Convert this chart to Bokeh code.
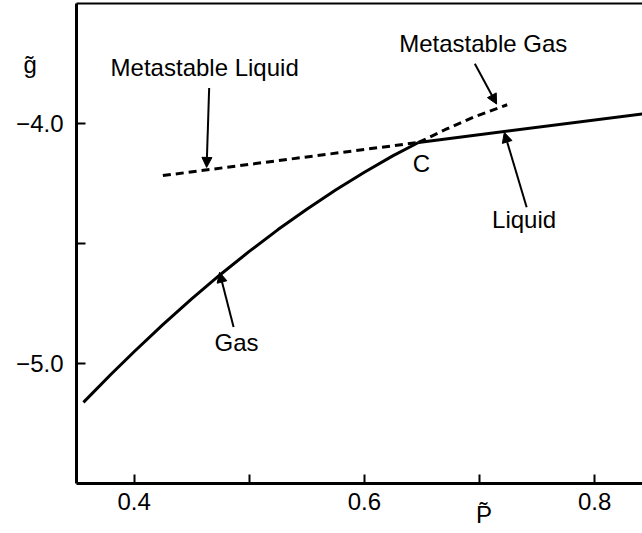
from bokeh.plotting import figure
from bokeh.models import Range1d, FixedTicker, Label, Arrow, NormalHead, LinearAxis
from bokeh.embed import file_html
from bokeh.resources import INLINE

# --- data ---
gas_p = [0.356, 0.380, 0.400, 0.425, 0.450, 0.475, 0.500, 0.525, 0.550, 0.575, 0.600, 0.625, 0.647]
gas_g = [-5.162, -5.045, -4.951, -4.838, -4.731, -4.629, -4.533, -4.442, -4.357, -4.277, -4.203, -4.134, -4.079]
meta_gas_p = [0.647, 0.670, 0.695, 0.724]
meta_gas_g = [-4.079, -4.026, -3.973, -3.922]
liquid_p = [0.647, 0.850]
liquid_g = [-4.079, -3.955]
meta_liq_p = [0.425, 0.647]
meta_liq_g = [-4.217, -4.079]

x_ticks = [0.4, 0.5, 0.6, 0.7, 0.8]
x_label_ticks = [0.4, 0.6, 0.8]
x_label_text = ["0.4", "0.6", "0.8"]
y_ticks = [-5.0, -4.5, -4.0]
y_label_ticks = [-5.0, -4.0]
y_label_text = ["\u22125.0", "\u22124.0"]

label_text = ["Metastable Liquid", "Metastable Gas", "Liquid", "Gas", "C"]
label_x = [0.4613, 0.7032, 0.7387, 0.4890, 0.6496]
label_y = [-3.765, -3.668, -4.401, -4.911, -4.166]

arrow_x_start = [0.4652, 0.6959, 0.7409, 0.4864]
arrow_y_start = [-3.852, -3.751, -4.349, -4.848]
arrow_x_end = [0.4630, 0.7148, 0.7215, 0.4742]
arrow_y_end = [-4.183, -3.919, -4.037, -4.620]

y_title = "g\u0303"
y_title_at = -3.755
x_title = "P\u0303"
x_title_at = 0.7039

FONT = "Liberation Sans"
FS = "24px"

p = figure(width=642, height=533, output_backend="svg", toolbar_location=None,
           x_range=Range1d(0.35, 0.8415), y_range=Range1d(-5.5, -3.5),
           x_axis_location=None, y_axis_location=None,
           min_border_left=76, min_border_right=0, min_border_top=3, min_border_bottom=50)
p.outline_line_color = None
p.grid.visible = False
p.background_fill_color = "white"


def line_axis(ticks, width):
    return LinearAxis(ticker=FixedTicker(ticks=ticks), axis_line_width=width, axis_line_color="black",
                      major_tick_in=9, major_tick_out=0, major_tick_line_width=2,
                      major_tick_line_color="black", minor_tick_line_color=None,
                      major_label_overrides={t: "" for t in ticks},
                      major_label_text_font_size="0px", major_label_standoff=0)


def label_axis(ticks, texts, standoff):
    return LinearAxis(ticker=FixedTicker(ticks=ticks), axis_line_color=None,
                      major_tick_in=0, major_tick_out=0, major_tick_line_color=None,
                      minor_tick_line_color=None,
                      major_label_overrides=dict(zip(ticks, texts)),
                      major_label_standoff=standoff, major_label_text_font=FONT,
                      major_label_text_font_size=FS, major_label_text_color="black")


# bottom: axis line + ticks, tick labels, title
p.add_layout(line_axis(x_ticks, 3), "below")
p.add_layout(label_axis(x_label_ticks, x_label_text, 9), "below")
p.add_layout(label_axis([x_title_at], [x_title], -12), "below")
# left: axis line + ticks, tick labels with title
p.add_layout(line_axis(y_ticks, 3), "left")
p.add_layout(label_axis(y_label_ticks + [y_title_at],
                        y_label_text + [y_title + "\u00a0" * 4], 13), "left")
# top border
p.add_layout(line_axis([], 2), "above")

p.line(gas_p, gas_g, line_color="black", line_width=3)
p.line(liquid_p, liquid_g, line_color="black", line_width=3)
p.line(meta_gas_p, meta_gas_g, line_color="black", line_width=3, line_dash="8 5")
p.line(meta_liq_p, meta_liq_g, line_color="black", line_width=3, line_dash="8 5")

for xs, ys, xe, ye in zip(arrow_x_start, arrow_y_start, arrow_x_end, arrow_y_end):
    p.add_layout(Arrow(x_start=xs, y_start=ys, x_end=xe, y_end=ye,
                       line_color="black", line_width=2,
                       end=NormalHead(size=10, fill_color="black", line_color="black", line_width=1)))

for t, x, y in zip(label_text, label_x, label_y):
    p.add_layout(Label(x=x, y=y, text=t, text_font=FONT, text_font_size=FS,
                       text_align="center", text_baseline="alphabetic", text_color="black"))

open("out.html", "w").write(file_html(p, INLINE))
